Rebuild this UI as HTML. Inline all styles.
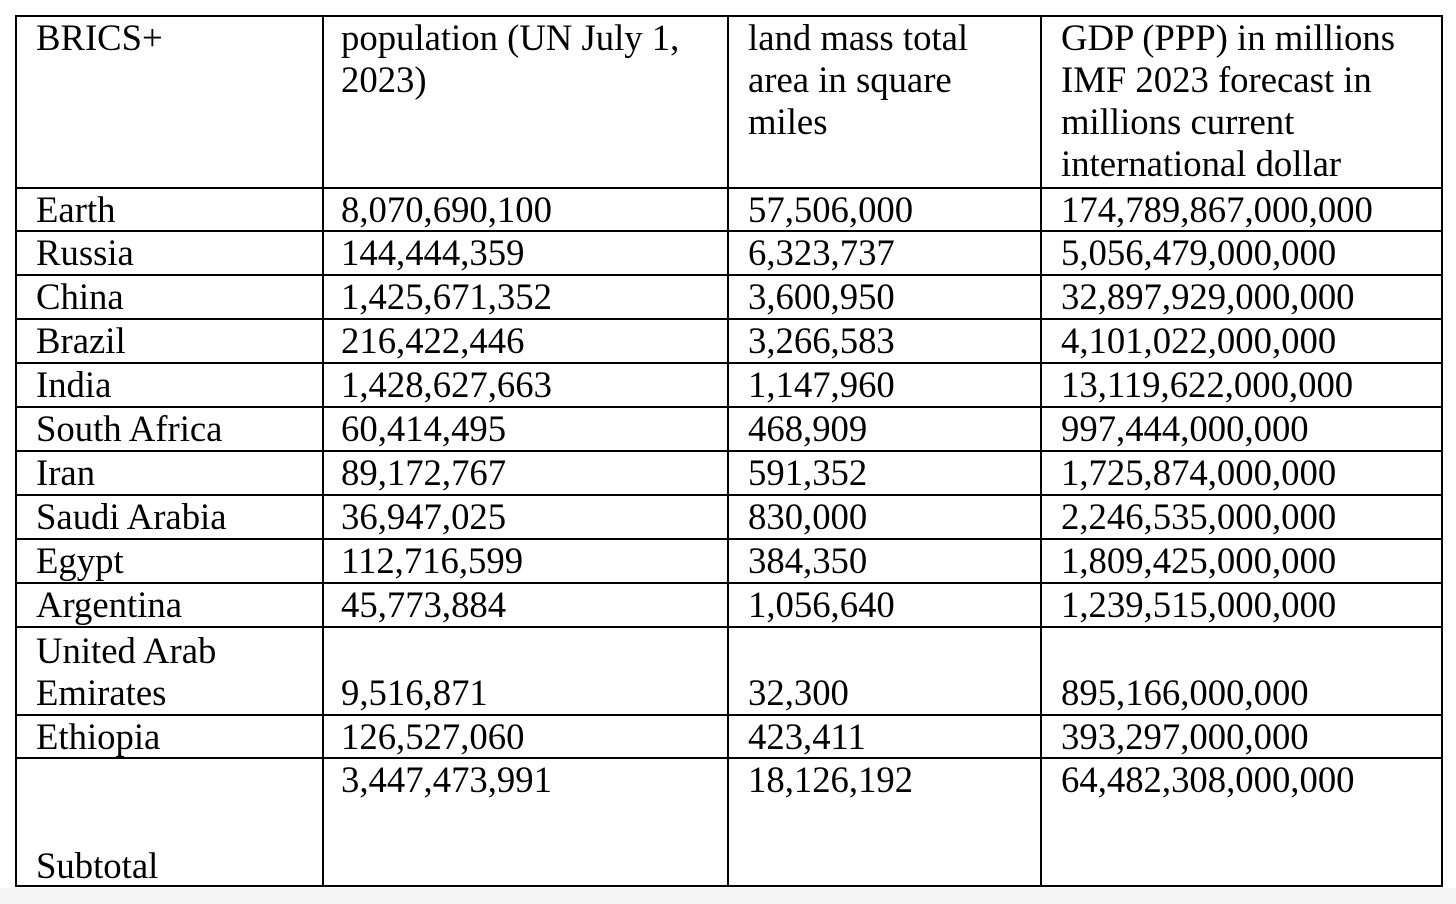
<!DOCTYPE html>
<html><head><meta charset="utf-8"><style>
html,body{margin:0;padding:0}
body{width:1456px;height:904px;position:relative;background:#fff;overflow:hidden;font-family:"Liberation Serif",serif;font-size:36.7px;line-height:42px;color:#000}
.t{position:absolute;white-space:nowrap}
.h{position:absolute;background:#000;height:2px}
.v{position:absolute;background:#000;width:2px}
#strip{position:absolute;left:0;top:888px;width:1456px;height:16px;background:#f5f5f5}
</style></head><body>
<div id="strip"></div>
<div id="tbl"></div>
<script>
const rowNames=["Earth","Russia","China","Brazil","India","South Africa","Iran","Saudi Arabia","Egypt","Argentina"];
const population=["8,070,690,100","144,444,359","1,425,671,352","216,422,446","1,428,627,663","60,414,495","89,172,767","36,947,025","112,716,599","45,773,884"];
const landArea=["57,506,000","6,323,737","3,600,950","3,266,583","1,147,960","468,909","591,352","830,000","384,350","1,056,640"];
const gdp=["174,789,867,000,000","5,056,479,000,000","32,897,929,000,000","4,101,022,000,000","13,119,622,000,000","997,444,000,000","1,725,874,000,000","2,246,535,000,000","1,809,425,000,000","1,239,515,000,000"];
const tbl=document.getElementById('tbl');
const colX=[36,341,748,1061];
function txt(s,x,y,name){
  const d=document.createElement('div');d.className='t';d.textContent=s;
  d.style.left=x+'px';d.style.top=y+'px';
  
  
  tbl.appendChild(d);
}
function line(cls,x,y,len,name){
  const d=document.createElement('div');d.className=cls;
  d.style.left=x+'px';d.style.top=y+'px';
  if(cls==='h')d.style.width=len+'px';else d.style.height=len+'px';
  
  
  tbl.appendChild(d);
}
const hy=[15,187,230,274,318,362,406,450,494,538,582,626,714,757,885];
hy.forEach(y=>line('h',15,y,1428,'row-border'));
[15,322,727,1040,1441].forEach(x=>line('v',x,15,872,'column-border'));
const hdr=[["BRICS+"],["population (UN July 1,","2023)"],["land mass total","area in square","miles"],["GDP (PPP) in millions","IMF 2023 forecast in","millions current","international dollar"]];
hdr.forEach((lines,c)=>lines.forEach((s,i)=>txt(s,colX[c],17+42*i,'header-cell')));
const rowTop=[188,231,275,319,363,407,451,495,539,583];
for(let i=0;i<rowNames.length;i++){
  const y=rowTop[i]+1;
  txt(rowNames[i],colX[0],y,'country-name');
  txt(population[i],colX[1],y,'population-value');
  txt(landArea[i],colX[2],y,'land-area-value');
  txt(gdp[i],colX[3],y,'gdp-value');
}
txt("United Arab",colX[0],630,'country-name');
txt("Emirates",colX[0],672,'country-name');
txt("9,516,871",colX[1],672,'population-value');
txt("32,300",colX[2],672,'land-area-value');
txt("895,166,000,000",colX[3],672,'gdp-value');
txt("Ethiopia",colX[0],716,'country-name');
txt("126,527,060",colX[1],716,'population-value');
txt("423,411",colX[2],716,'land-area-value');
txt("393,297,000,000",colX[3],716,'gdp-value');
txt("3,447,473,991",colX[1],759,'subtotal-population');
txt("18,126,192",colX[2],759,'subtotal-land-area');
txt("64,482,308,000,000",colX[3],759,'subtotal-gdp');
txt("Subtotal",colX[0],845,'subtotal-label');
</script>
</body></html>
